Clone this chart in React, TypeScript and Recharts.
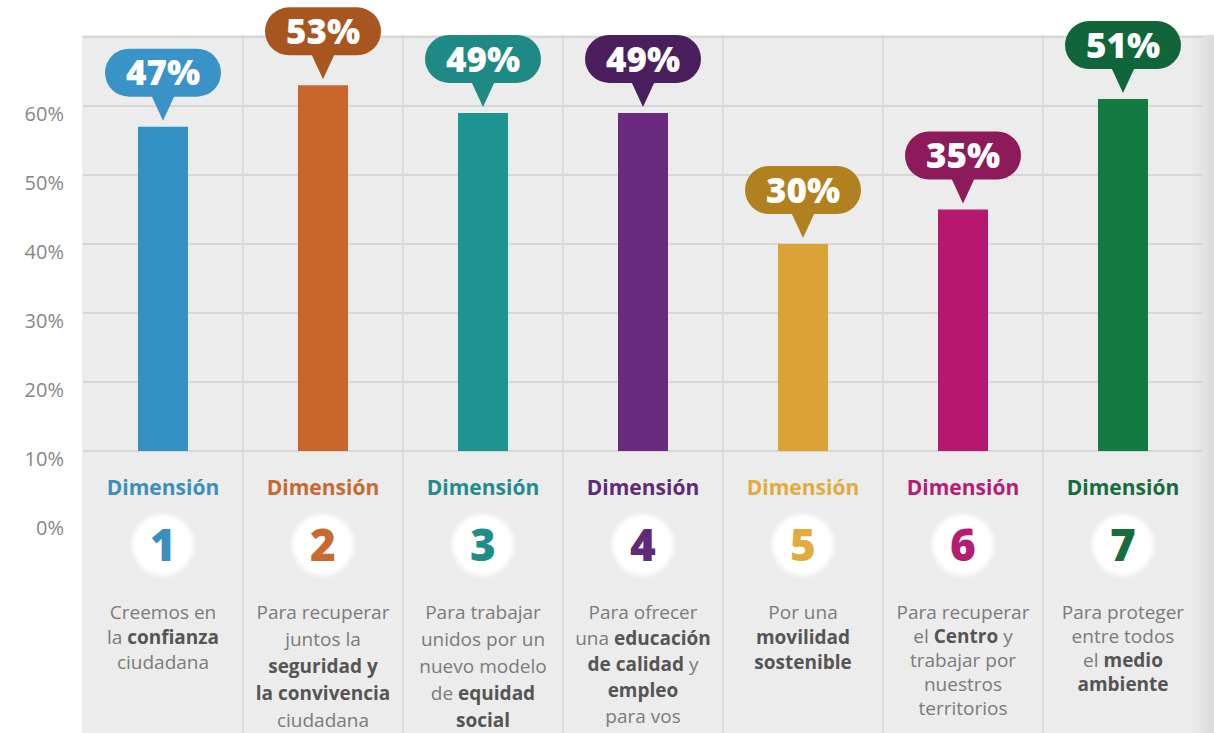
import React from "react";
import { BarChart, Bar, XAxis, YAxis, CartesianGrid, LabelList, Cell } from "recharts";

const DIMENSIONS = ["1", "2", "3", "4", "5", "6", "7"];
const VALUES = [47, 53, 49, 49, 30, 35, 51];
const Y_TICKS = [0, 10, 20, 30, 40, 50, 60];
const GRID_VALUES = [10, 20, 30, 40, 50, 60, 70];
const BASELINE = 10; // bars stand on the 10% line
const DESCRIPTIONS = [
  ["Creemos en", "la **confianza**", "ciudadana"],
  ["Para recuperar", "juntos la", "**seguridad y**", "**la convivencia**", "ciudadana"],
  ["Para trabajar", "unidos por un", "nuevo modelo", "de **equidad**", "**social**"],
  ["Para ofrecer", "una **educación**", "**de calidad** y", "**empleo**", "para vos"],
  ["Por una", "**movilidad**", "**sostenible**"],
  ["Para recuperar", "el **Centro** y", "trabajar por", "nuestros", "territorios"],
  ["Para proteger", "entre todos", "el **medio**", "**ambiente**"],
];

const BAR_COLORS = ["#3590c3", "#c8662b", "#1f9591", "#6a2a7d", "#dba337", "#b8176f", "#137b41"];
const BUBBLE_COLORS = ["#3a93c6", "#a8561f", "#1e8985", "#4b1f5d", "#b1801f", "#8d1a5b", "#10653a"];
const TITLE_COLORS = ["#3b8fbf", "#c8692e", "#1f8d89", "#5f2a77", "#e2ab40", "#b51d73", "#156d3d"];
const LINE_GAPS = [25, 27, 27, 26, 25, 24, 24];

const W = 1214;
const H = 733;
const TOP = 37;
const LEFT = 83;
const RIGHT = 11;
const AXIS_H = 213;
const FONT = "'Open Sans', 'Noto Sans', sans-serif";

const data = DIMENSIONS.map((dim, i) => ({ dim, value: VALUES[i] }));

const renderLine = (line: string) =>
  line.split("**").map((part, k) =>
    part ? (
      <tspan key={k} fontWeight={k % 2 ? 700 : 400} fill={k % 2 ? "#555" : "#7b7b7b"}>
        {part}
      </tspan>
    ) : null
  );

const YTick = (props: any) => {
  const { x, y, payload } = props;
  return (
    <text x={x} y={y + 8} dy="0.35em" textAnchor="end" fontSize={20} fill="#878787" fontFamily={FONT}>
      {payload.value}%
    </text>
  );
};

const DimensionTick = (props: any) => {
  const { x, y, payload } = props;
  const i = payload.index ?? props.index ?? 0;
  const half = payload.offset || (W - LEFT - RIGHT) / DIMENSIONS.length / 2;
  const gap = LINE_GAPS[i];
  return (
    <g>
      {i > 0 && (
        <line x1={x - half} x2={x - half} y1={TOP - 2} y2={H} stroke="#dcdcdc" strokeWidth={2} />
      )}
      <text x={x} y={y - 32} dy="0.35em" textAnchor="middle" fontSize={21} fontWeight={700} fill={TITLE_COLORS[i]} fontFamily={FONT}>
        Dimensión
      </text>
      <circle cx={x} cy={y + 25} r={34} fill="url(#dotGlow)" />
      <text x={x} y={y + 25} dy="0.36em" textAnchor="middle" fontSize={44} fontWeight={800} fill={TITLE_COLORS[i]} fontFamily={FONT}>
        {payload.value}
      </text>
      {DESCRIPTIONS[i].map((line, k) => (
        <text key={k} x={x} y={y + 92 + k * gap} dy="0.35em" textAnchor="middle" fontSize={19} fontFamily={FONT}>
          {renderLine(line)}
        </text>
      ))}
    </g>
  );
};

const Bubble = (props: any) => {
  const vb = props.viewBox ?? props;
  const { x, y, width, height } = vb;
  const top = Math.min(y, y + height);
  const cx = x + width / 2;
  const i = props.index ?? 0;
  const tip = top - 6;
  const base = tip - 24;
  const pillH = 48;
  const pillW = 116;
  const color = BUBBLE_COLORS[i];
  return (
    <g>
      <path d={`M${cx - 12},${base - 2} L${cx + 12},${base - 2} L${cx},${tip} Z`} fill={color} />
      <rect x={cx - pillW / 2} y={base - pillH} width={pillW} height={pillH} rx={24} fill={color} />
      <text x={cx} y={base - pillH / 2} dy="0.36em" textAnchor="middle" fill="#fff" fontSize={35} fontWeight={800} fontFamily={FONT}>
        {props.value}%
      </text>
    </g>
  );
};

export default function App() {
  return (
    <div style={{ position: "relative", width: W, height: H, background: "#fff", overflow: "hidden" }}>
      <style>{`body{margin:0}`}</style>
      <div
        style={{
          position: "absolute",
          left: LEFT - 1,
          top: TOP - 2,
          right: 0,
          bottom: 0,
          background: "linear-gradient(to right, #ececec 0px, #ececec 1108px, #e3e3e3 1122px, #d9d9d9 1132px)",
        }}
      />
      <div style={{ position: "absolute", left: 0, top: 0 }}>
        <BarChart width={W} height={H} data={data} margin={{ top: TOP, right: RIGHT, left: 0, bottom: 0 }} barSize={50}>
          <defs>
            <radialGradient id="dotGlow">
              <stop offset="0%" stopColor="#ffffff" />
              <stop offset="80%" stopColor="#ffffff" />
              <stop offset="100%" stopColor="#ececec" />
            </radialGradient>
          </defs>
          <CartesianGrid vertical={false} horizontalValues={GRID_VALUES} stroke="#d0d0d0" strokeWidth={1.5} />
          <XAxis
            dataKey="dim"
            height={AXIS_H}
            axisLine={false}
            tickLine={false}
            tickSize={0}
            tickMargin={0}
            interval={0}
            tick={<DimensionTick />}
          />
          <YAxis
            type="number"
            domain={[0, 70]}
            ticks={Y_TICKS}
            width={LEFT}
            axisLine={false}
            tickLine={false}
            tickSize={0}
            tickMargin={19}
            interval={0}
            tick={<YTick />}
          />
          <Bar dataKey={(d: any) => [BASELINE, BASELINE + d.value]} isAnimationActive={false}>
            {data.map((_, i) => (
              <Cell key={i} fill={BAR_COLORS[i]} />
            ))}
            <LabelList dataKey="value" content={<Bubble />} />
          </Bar>
        </BarChart>
      </div>
    </div>
  );
}
